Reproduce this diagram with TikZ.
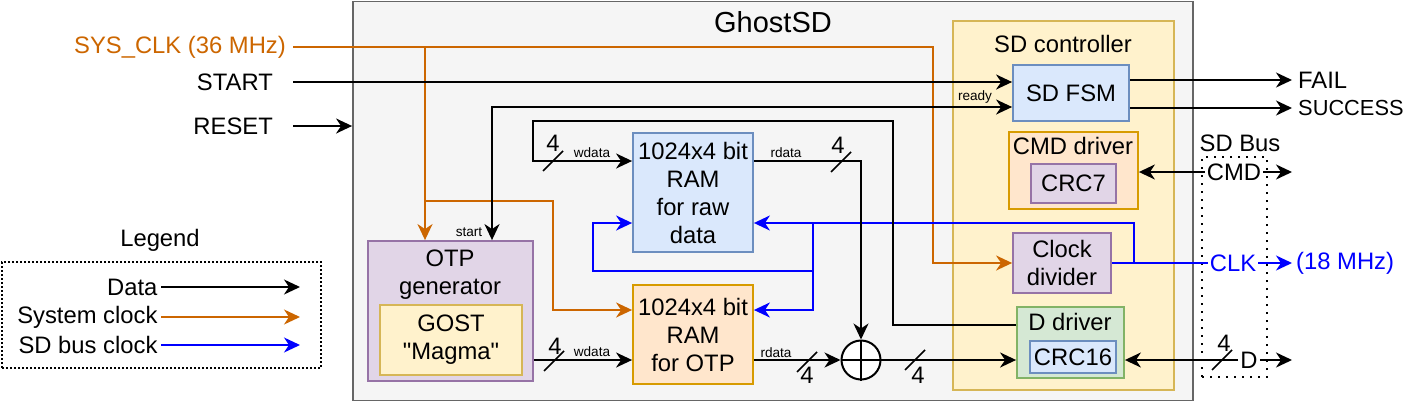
\documentclass[tikz,border=0pt]{standalone}
\usepackage{fontspec}
\setmainfont{Liberation Sans}
\usetikzlibrary{arrows.meta}

\definecolor{sysorange}{HTML}{CC6600}
\definecolor{busblue}{HTML}{0000FF}
\definecolor{ghostfill}{HTML}{F5F5F5}
\definecolor{ghostline}{HTML}{666666}
\definecolor{bluefill}{HTML}{DAE8FC}
\definecolor{blueline}{HTML}{6C8EBF}
\definecolor{orangefill}{HTML}{FFE6CC}
\definecolor{orangeline}{HTML}{D79B00}
\definecolor{purplefill}{HTML}{E1D5E7}
\definecolor{purpleline}{HTML}{9673A6}
\definecolor{yellowfill}{HTML}{FFF2CC}
\definecolor{yellowline}{HTML}{D6B656}
\definecolor{greenfill}{HTML}{D5E8D4}
\definecolor{greenline}{HTML}{82B366}

\begin{document}
\begin{tikzpicture}[
    x = 1pt, y = -1pt,
    > = {Stealth[length = 16pt, width = 15pt, inset = 5pt]},
    every node/.style = {font = \fontsize{23.8}{28}\selectfont},
    box/.style = {draw, line width = 1.8pt, align = center, inner sep = 0pt},
    bluebox/.style = {box, draw = blueline, fill = bluefill},
    orangebox/.style = {box, draw = orangeline, fill = orangefill},
    purplebox/.style = {box, draw = purpleline, fill = purplefill},
    yellowbox/.style = {box, draw = yellowline, fill = yellowfill},
    greenbox/.style = {box, draw = greenline, fill = greenfill},
    dotbox/.style = {draw, line width = 2pt, dash pattern = on 2pt off 2pt},
    siglbl/.style = {font = \fontsize{13.6}{16}\selectfont, inner sep = 1pt},
    buslbl/.style = {inner sep = 2pt},
    inport/.style = {anchor = east, inner xsep = 20pt},
    outport/.style = {anchor = west, inner xsep = 6pt},
    wire/.style = {line width = 2pt, ->},
    biwire/.style = {line width = 2pt, <->},
    sysclk/.style = {wire, draw = sysorange},
    sdclk/.style = {wire, draw = busblue}
  ]
  \useasboundingbox (0,0) rectangle (1404,402);

  % outer blocks
  \node[box, draw = ghostline, fill = ghostfill, minimum width = 840pt, minimum height = 399pt] (ghost) at (773,201) {};
  \node[font = \fontsize{29}{34}\selectfont] (ghosttitle) at (773,22) {GhostSD};
  \node[yellowbox, minimum width = 221pt, minimum height = 369pt] (sdctrl) at (1063.5,205.5) {};
  \node (sdctrltitle) at (1063,44) {SD controller};
  \node[dotbox, dash pattern = on 2pt off 6pt, minimum width = 65pt, minimum height = 220pt] (sdbus) at (1234.5,267) {};
  \node (sdbustitle) at (1240,143) {SD Bus};

  % SD controller parts
  \node[bluebox, minimum width = 116pt, minimum height = 56pt] (fsm) at (1071,93) {SD FSM};
  \node[orangebox, minimum width = 129pt, minimum height = 77pt] (cmddrv) at (1073.5,170.5) {};
  \node (cmdtitle) at (1073,146) {CMD driver};
  \node[purplebox, minimum width = 85pt, minimum height = 39pt] (crc7) at (1073.5,183.5) {CRC7};
  \node[purplebox, minimum width = 98pt, minimum height = 60pt] (clkdiv) at (1062,263) {Clock\\divider};
  \node[greenbox, minimum width = 107pt, minimum height = 71pt] (ddrv) at (1070.5,342.5) {};
  \node (dtitle) at (1070,322) {D driver};
  \node[bluebox, minimum width = 86pt, minimum height = 32pt] (crc16) at (1073,357) {CRC16};

  % memories and generator
  \node[bluebox, minimum width = 120pt, minimum height = 119pt] (ramraw) at (693,192.5) {1024x4 bit\\RAM\\for raw\\data};
  \node[orangebox, minimum width = 120pt, minimum height = 99pt] (ramotp) at (693,334.5) {1024x4 bit\\RAM\\for OTP};
  \node[purplebox, minimum width = 165pt, minimum height = 140pt] (otpgen) at (450.5,311) {};
  \node[align = center] (otptitle) at (450,275) {OTP\\generator};
  \node[yellowbox, minimum width = 142pt, minimum height = 70pt] (gost) at (451,340) {GOST\\\textquotedbl Magma\textquotedbl};

  % ports
  \node[anchor = east, inner xsep = 7pt, text = sysorange] (sysclk) at (293,47) {SYS\_CLK (36 MHz)};
  \node[inport] (startin) at (293,82) {START};
  \node[inport] (resetin) at (293,126) {RESET};
  \node[outport] (faillbl) at (1292,80) {FAIL};
  \node[outport, font = \fontsize{21.8}{26}\selectfont] (succlbl) at (1292,108) {SUCCESS};
  \node[buslbl] (cmdsig) at (1234,172) {CMD};
  \node[buslbl, text = busblue] (clksig) at (1233,263) {CLK};
  \node[buslbl] (dsig) at (1249,360) {D};
  \node[outport, text = busblue, inner xsep = 4pt] (mhz) at (1292,263) {(18 MHz)};
  \coordinate (cmdout) at (1292,172);
  \coordinate (dout) at (1292,360);

  % bends
  \coordinate (clksplit) at (425,47);
  \coordinate (otpbend) at (425,201);
  \coordinate (otpclk) at (553,310);
  \coordinate (rdy) at (492,107);
  \coordinate (dlevel) at (893,325);
  \coordinate (dtop) at (533,121);
  \coordinate (rawin) at (533,161);
  \coordinate (clkjoin) at (1134,263);
  \coordinate (clkhub) at (813,223);
  \coordinate (clkloop) at (813,271);
  \coordinate (rawclk) at (593,223);

  % system clock
  \draw[sysclk] (sysclk.east) -- ++(640,0) |- (clkdiv.west);
  \draw[sysclk] (clksplit) -- (clksplit |- otpgen.north);
  \draw[sysclk] (otpbend) -| (otpclk) -- (otpclk -| ramotp.west);

  % SD bus clock
  \draw[sdclk, -] (clkdiv.east) -- (clksig.west);
  \draw[sdclk] (clksig.east) -- (mhz.west);
  \draw[sdclk] (clkjoin) |- (clkhub) -- (clkhub -| ramraw.east);
  \draw[sdclk] (clkhub) |- (otpclk -| ramotp.east);
  \draw[sdclk] (clkloop) -| (rawclk) -- (rawclk -| ramraw.west);

  % data
  \draw[wire] (startin.east) -- (startin.east -| fsm.west);
  \draw[wire] (resetin.east) -- (resetin.east -| ghost.west);
  \draw[biwire] (otpgen.north -| rdy) -- (rdy) -- (rdy -| fsm.west);
  \draw[wire] (fsm.east |- faillbl.west) -- (faillbl.west);
  \draw[wire] (fsm.east |- succlbl.west) -- (succlbl.west);
  \draw[wire] (ddrv.west |- dlevel) -- (dlevel) |- (dtop) -- (rawin) -- (rawin -| ramraw.west);
  \node[draw, circle, line width = 2pt, fill = white, minimum size = 39pt, inner sep = 0pt] (xor) at (861,360) {};
  \draw[line width = 2pt] (xor.north) -- (xor.south) (xor.west) -- (xor.east);
  \draw[wire] (rawin -| ramraw.east) -| (xor.north);
  \draw[wire] (otpgen.east |- xor) -- (ramotp.west |- xor);
  \draw[wire] (ramotp.east |- xor) -- (xor.west);
  \draw[wire] (xor.east) -- (ddrv.west |- xor);
  \draw[wire] (cmdsig.west) -- (cmdsig.west -| cmddrv.east);
  \draw[wire] (cmdsig.east) -- (cmdout);
  \draw[wire] (dsig.west) -- (dsig.west -| ddrv.east);
  \draw[wire] (dsig.east) -- (dout);

  % bus widths and signal names
  \foreach \x/\y in {553/161, 841/162, 554/361, 807/362, 915/360, 1222/360}
    \draw[line width = 1.5pt] (\x-10,\y+10) -- (\x+10,\y-10);
  \foreach \name/\x/\y in {wraw/553/143, rraw/838/145, wotp/555/346, rotp/807/375, xout/918/375, dbus/1224/343}
    \node (\name) at (\x,\y) {4};
  \node[siglbl] (wrawlbl) at (592,153) {wdata};
  \node[siglbl] (rrawlbl) at (786,153) {rdata};
  \node[siglbl] (wotplbl) at (592,352) {wdata};
  \node[siglbl] (rotplbl) at (776,353) {rdata};
  \node[siglbl] (readysig) at (975,97) {ready};
  \node[siglbl] (startsig) at (469,232) {start};

  % legend
  \node (legend) at (160,240) {Legend};
  \node[dotbox, minimum width = 319pt, minimum height = 106pt] (legbox) at (161.5,315) {};
  \foreach \name/\txt/\sty/\y in {ldata/Data/wire/287, lsys/System clock/sysclk/317, lsd/SD bus clock/sdclk/345} {
    \node[anchor = east] (\name) at (161,\y) {\txt};
    \coordinate (\name end) at (300,\y);
    \draw[\sty] (\name) -- (\name end);
  }
\end{tikzpicture}
\end{document}
